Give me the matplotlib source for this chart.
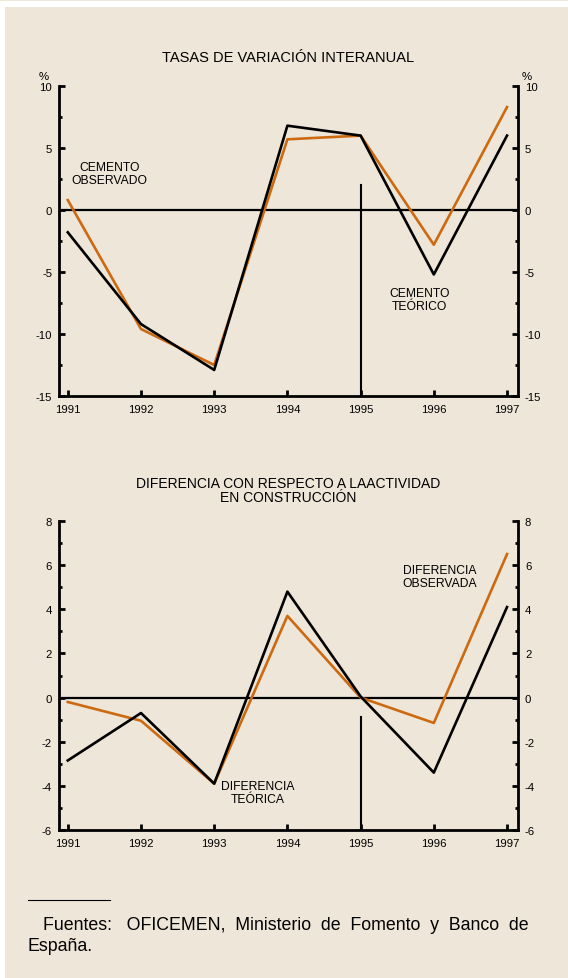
import matplotlib.pyplot as plt
from matplotlib.patches import Rectangle
from matplotlib.ticker import MultipleLocator

# data
years = [1991, 1992, 1993, 1994, 1995, 1996, 1997]
cemento_observado = [0.8, -9.6, -12.5, 5.7, 6.0, -2.8, 8.3]
cemento_teorico = [-1.8, -9.2, -12.9, 6.8, 6.0, -5.2, 6.0]
dif_observada = [-0.2, -1.05, -3.9, 3.7, 0.0, -1.15, 6.5]
dif_teorica = [-2.85, -0.7, -3.9, 4.8, 0.05, -3.4, 4.1]

ORANGE = '#CC6A12'
BG = '#EEE6D8'

plt.rcParams['font.family'] = ['Liberation Sans', 'DejaVu Sans']

fig = plt.figure(figsize=(5.68, 9.79), dpi=100)
fig.patch.set_facecolor('white')
W, H = 568.0, 979.0
fig.patches.append(Rectangle((0, 1 - 2 / H), 1, 2 / H, transform=fig.transFigure,
                             facecolor=BG, edgecolor='none', zorder=-10))
fig.patches.append(Rectangle((5 / W, 0), 1 - 5 / W, 1 - 8 / H, transform=fig.transFigure,
                             facecolor=BG, edgecolor='none', zorder=-10))


def setup_axes(ax, ylim, major, minor):
    ax.set_facecolor('none')
    ax.set_xlim(1990.88, 1997.15)
    ax.set_ylim(*ylim)
    ax.set_xticks(years)
    ax.yaxis.set_major_locator(MultipleLocator(major))
    ax.yaxis.set_minor_locator(MultipleLocator(minor))
    ax.spines['top'].set_visible(False)
    for s in ['left', 'right', 'bottom']:
        ax.spines[s].set_linewidth(2.0)
    ax.tick_params(axis='both', which='major', direction='in', length=4, width=2,
                   labelsize=8.2)
    ax.tick_params(axis='x', which='major', pad=6)
    ax.tick_params(axis='y', which='minor', direction='in', length=2, width=2)
    ax.tick_params(axis='x', which='minor', bottom=False)
    ax.tick_params(axis='y', which='both', left=True, right=True,
                   labelleft=True, labelright=True)
    ax.tick_params(axis='y', which='major', pad=5)
    ax.yaxis.set_major_formatter(lambda v, p: f'{v:g}')
    ax.axhline(0, color='black', lw=1.6, zorder=2)


# top panel
ax1 = fig.add_axes([59 / W, 1 - 397 / H, 459 / W, 310 / H])
setup_axes(ax1, (-15, 10), 5, 2.5)
ax1.plot([1995, 1995], [2.0, -15], color='black', lw=1.5, zorder=2)
ax1.plot(years, cemento_observado, color=ORANGE, lw=1.9, zorder=3)
ax1.plot(years, cemento_teorico, color='black', lw=1.9, zorder=4)
ax1.text(0.5, 1.092, 'TASAS DE VARIACIÓN INTERANUAL', transform=ax1.transAxes,
         ha='center', va='center', fontsize=10.5)
ax1.text(-0.033, 1.033, '%', transform=ax1.transAxes, ha='center', va='center', fontsize=8.2)
ax1.text(1.02, 1.033, '%', transform=ax1.transAxes, ha='center', va='center', fontsize=8.2)
ax1.text(1991.57, 2.95, 'CEMENTO\nOBSERVADO', ha='center', va='center', fontsize=8.7,
         linespacing=1.15)
ax1.text(1995.81, -7.2, 'CEMENTO\nTEÓRICO', ha='center', va='center', fontsize=8.7,
         linespacing=1.15)

# bottom panel
ax2 = fig.add_axes([59 / W, 1 - 831 / H, 459 / W, 309 / H])
setup_axes(ax2, (-6, 8), 2, 1)
ax2.plot([1995, 1995], [-0.9, -6], color='black', lw=1.5, zorder=2)
ax2.plot(years, dif_observada, color=ORANGE, lw=1.9, zorder=3)
ax2.plot(years, dif_teorica, color='black', lw=1.9, zorder=4)
ax2.text(0.5, 1.10, 'DIFERENCIA CON RESPECTO A LAACTIVIDAD\nEN CONSTRUCCIÓN',
         transform=ax2.transAxes, ha='center', va='center', fontsize=10.0, linespacing=1.0)
ax2.text(1996.08, 5.5, 'DIFERENCIA\nOBSERVADA', ha='center', va='center', fontsize=8.7,
         linespacing=1.15)
ax2.text(1993.6, -4.3, 'DIFERENCIA\nTEÓRICA', ha='center', va='center', fontsize=8.7,
         linespacing=1.15)

# footnote
fig.add_artist(plt.Line2D([28 / W, 110 / W], [1 - 901 / H, 1 - 901 / H],
                          color='black', lw=0.8))
fig.text(43 / W, 1 - 926 / H, 'Fuentes:   OFICEMEN,  Ministerio  de  Fomento  y  Banco  de',
         ha='left', va='center', fontsize=12.8)
fig.text(28 / W, 1 - 947 / H, 'España.', ha='left', va='center', fontsize=12.8)

fig.savefig('out.png', dpi=100, facecolor=fig.get_facecolor())
